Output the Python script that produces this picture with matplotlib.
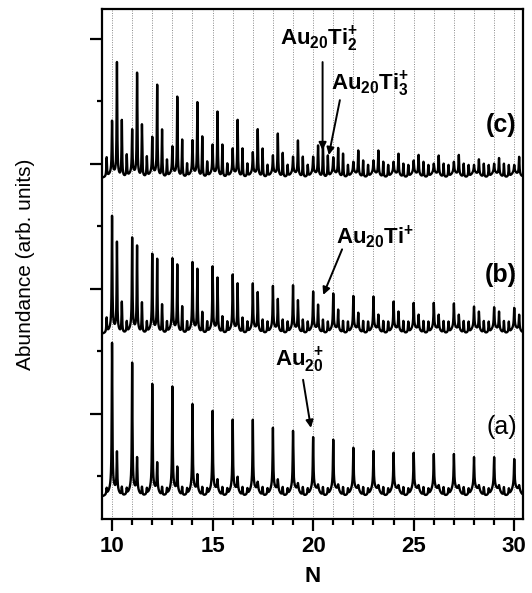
import numpy as np
import matplotlib.pyplot as plt

plt.rcParams['font.family'] = ['Liberation Sans', 'DejaVu Sans']
plt.rcParams['mathtext.fontset'] = 'custom'
plt.rcParams['mathtext.rm'] = 'Liberation Sans'
plt.rcParams['mathtext.bf'] = 'Liberation Sans:bold'
plt.rcParams['mathtext.it'] = 'Liberation Sans:italic'

# ---------------------------------------------
# DATA (peak tops, arb. units)
# ---------------------------------------------

cluster_n = np.arange(10, 31)

# mass offsets in units of Au atoms: Au_N, Au_NTi, Au_NTi2, Au_(N-1)Ti3
ti_offsets = [0.0, 0.244, 0.487, -0.269]

# panel (a)
a_base = -0.34
a_wing = 0.24
a_main = [2.13, 1.81, 1.47, 1.43, 1.15, 1.04, 0.90, 0.90, 0.77, 0.72, 0.62,
          0.58, 0.45, 0.40, 0.37, 0.37, 0.35, 0.35, 0.30, 0.30, 0.27]
a_ti1 = [0.38, 0.29, 0.21, 0.14, 0.02, -0.06, -0.02, -0.10, -0.06, -0.12, -0.14,
         -0.14, -0.15, -0.15, -0.15, -0.15, -0.15, -0.15, -0.15, -0.15, -0.15]
a_ti2 = [-0.18] * 21
a_ti3 = [-0.20] * 21

# panel (b)
b_base = 2.27
b_wing = 0.16
b_main = [4.16, 3.81, 3.55, 3.48, 3.42, 3.35, 3.22, 3.08, 3.04, 3.05, 2.95,
          2.92, 2.88, 2.87, 2.79, 2.77, 2.77, 2.76, 2.71, 2.70, 2.69]
b_ti1 = [3.74, 3.68, 3.47, 3.38, 3.31, 3.17, 3.08, 2.94, 2.83, 2.81, 2.74,
         2.66, 2.61, 2.58, 2.63, 2.58, 2.58, 2.58, 2.63, 2.63, 2.58]
b_ti2 = [2.78, 2.77, 2.74, 2.71, 2.62, 2.55, 2.53, 2.50, 2.50, 2.50, 2.50,
         2.48, 2.48, 2.48, 2.48, 2.48, 2.48, 2.48, 2.48, 2.48, 2.48]
b_ti3 = [2.53, 2.47, 2.47, 2.47, 2.47, 2.47, 2.47, 2.47, 2.47, 2.47, 2.47,
         2.47, 2.47, 2.47, 2.47, 2.47, 2.47, 2.47, 2.47, 2.47, 2.47]

# panel (c)
c_base = 4.77
c_wing = 0.13
c_main = [5.68, 5.54, 5.42, 5.27, 5.37, 5.30, 5.24, 5.18, 5.13, 5.11, 5.11,
          5.10, 5.03, 5.05, 5.03, 5.05, 5.00, 5.03, 4.98, 5.00, 4.98]
c_ti1 = [6.62, 6.45, 6.26, 6.07, 5.98, 5.83, 5.70, 5.55, 5.48, 5.37, 5.29,
         5.25, 5.21, 5.21, 5.16, 5.14, 5.13, 5.14, 5.07, 5.09, 5.11]
c_ti2 = [5.69, 5.62, 5.54, 5.38, 5.43, 5.30, 5.24, 5.24, 5.17, 5.11, 5.28,
         5.16, 5.05, 5.03, 5.00, 5.03, 5.00, 5.00, 5.00, 5.00, 5.00]
c_ti3 = [5.10, 5.14, 5.11, 5.06, 5.00, 5.03, 5.00, 5.00, 4.98, 4.98, 4.98,
         5.13, 4.98, 4.98, 4.98, 4.98, 4.98, 4.98, 4.98, 4.98, 4.98]

panel_labels = ['(a)', '(b)', '(c)']

x = np.linspace(9.5, 30.45, 12000)


def spectrum(base, wing, series):
    # background: flat level plus a cusp-shaped wing under every cluster
    bg = np.full_like(x, base)
    pos_main = cluster_n + ti_offsets[0]
    pos_ti1 = cluster_n + ti_offsets[1]
    for p in pos_main:
        bg += wing * np.exp(-np.abs(x - p) / 0.16)
    for p in pos_ti1:
        bg += 0.5 * wing * np.exp(-np.abs(x - p) / 0.10)
    y = bg.copy()
    gamma = 0.018
    for off, tops in zip(ti_offsets, series):
        pos = cluster_n + off
        amp = np.clip(np.array(tops) - np.interp(pos, x, bg), 0, None)
        for p, h in zip(pos, amp):
            y += h * gamma ** 2 / ((x - p) ** 2 + gamma ** 2)
    return y


ya = spectrum(a_base, a_wing, [a_main, a_ti1, a_ti2, a_ti3])
yb = spectrum(b_base, b_wing, [b_main, b_ti1, b_ti2, b_ti3])
yc = spectrum(c_base, c_wing, [c_main, c_ti1, c_ti2, c_ti3])

# ---------------------------------------------
# PLOT
# ---------------------------------------------

fig = plt.figure(figsize=(5.32, 5.93), dpi=100)
ax = fig.add_axes([0.1917, 0.1248, 0.7919, 0.86])

for n in cluster_n:
    ax.axvline(n, color='#8a8a8a', lw=0.7, ls=(0, (1, 1.5)), zorder=0)

ax.plot(x, ya, color='black', lw=1.7)
ax.plot(x, yb, color='black', lw=1.7)
ax.plot(x, yc, color='black', lw=1.7)

ax.set_xlim(9.5, 30.45)
ax.set_ylim(-0.69, 7.48)

ax.set_xticks([10, 15, 20, 25, 30])
ax.set_xticks(cluster_n, minor=True)
ax.set_yticks([1, 3, 5, 7])
ax.set_yticks([0, 2, 4, 6], minor=True)
ax.set_yticklabels([])

for s in ax.spines.values():
    s.set_linewidth(1.6)

ax.tick_params(which='major', direction='out', length=8.5, width=1.6,
               top=False, right=False, labelsize=16, pad=4)
ax.tick_params(which='minor', direction='out', length=4.5, width=1.6,
               top=False, right=False)
ax.tick_params(axis='y', which='minor', length=3.5)
for lab in ax.get_xticklabels():
    lab.set_fontweight('bold')

ax.set_xlabel('N', fontsize=16, fontweight='bold', labelpad=6)
ax.set_ylabel('Abundance (arb. units)', fontsize=15, labelpad=36)

# panel labels
ax.text(30.12, 0.79, panel_labels[0], fontsize=18, ha='right', va='center')
ax.text(30.12, 3.22, panel_labels[1], fontsize=18, fontweight='bold',
        ha='right', va='center')
ax.text(30.12, 5.62, panel_labels[2], fontsize=18, fontweight='bold',
        ha='right', va='center')

# species labels with arrows
arrow = dict(arrowstyle='-|>', color='black', lw=1.4, mutation_scale=11,
             shrinkA=0, shrinkB=0)
lab_kw = dict(fontsize=16, fontweight='bold', ha='left', va='baseline')

ax.text(18.10, 1.76, r'Au$_{\mathbf{20}}^{\ \ \mathbf{+}}$', **lab_kw)
ax.annotate('', xy=(19.89, 0.77), xytext=(19.50, 1.54), arrowprops=arrow)

ax.text(21.13, 3.73, r'Au$_{\mathbf{20}}$Ti$^{\mathbf{+}}$', **lab_kw)
ax.annotate('', xy=(20.50, 2.90), xytext=(21.44, 3.63), arrowprops=arrow)

ax.text(18.35, 6.90, r'Au$_{\mathbf{20}}$Ti$_{\mathbf{2}}^{\mathbf{+}}$', **lab_kw)
ax.annotate('', xy=(20.47, 5.22), xytext=(20.47, 6.63), arrowprops=arrow)

ax.text(20.91, 6.18, r'Au$_{\mathbf{20}}$Ti$_{\mathbf{3}}^{\mathbf{+}}$', **lab_kw)
ax.annotate('', xy=(20.78, 5.14), xytext=(21.33, 6.02), arrowprops=arrow)

fig.savefig('out.png', dpi=100)
